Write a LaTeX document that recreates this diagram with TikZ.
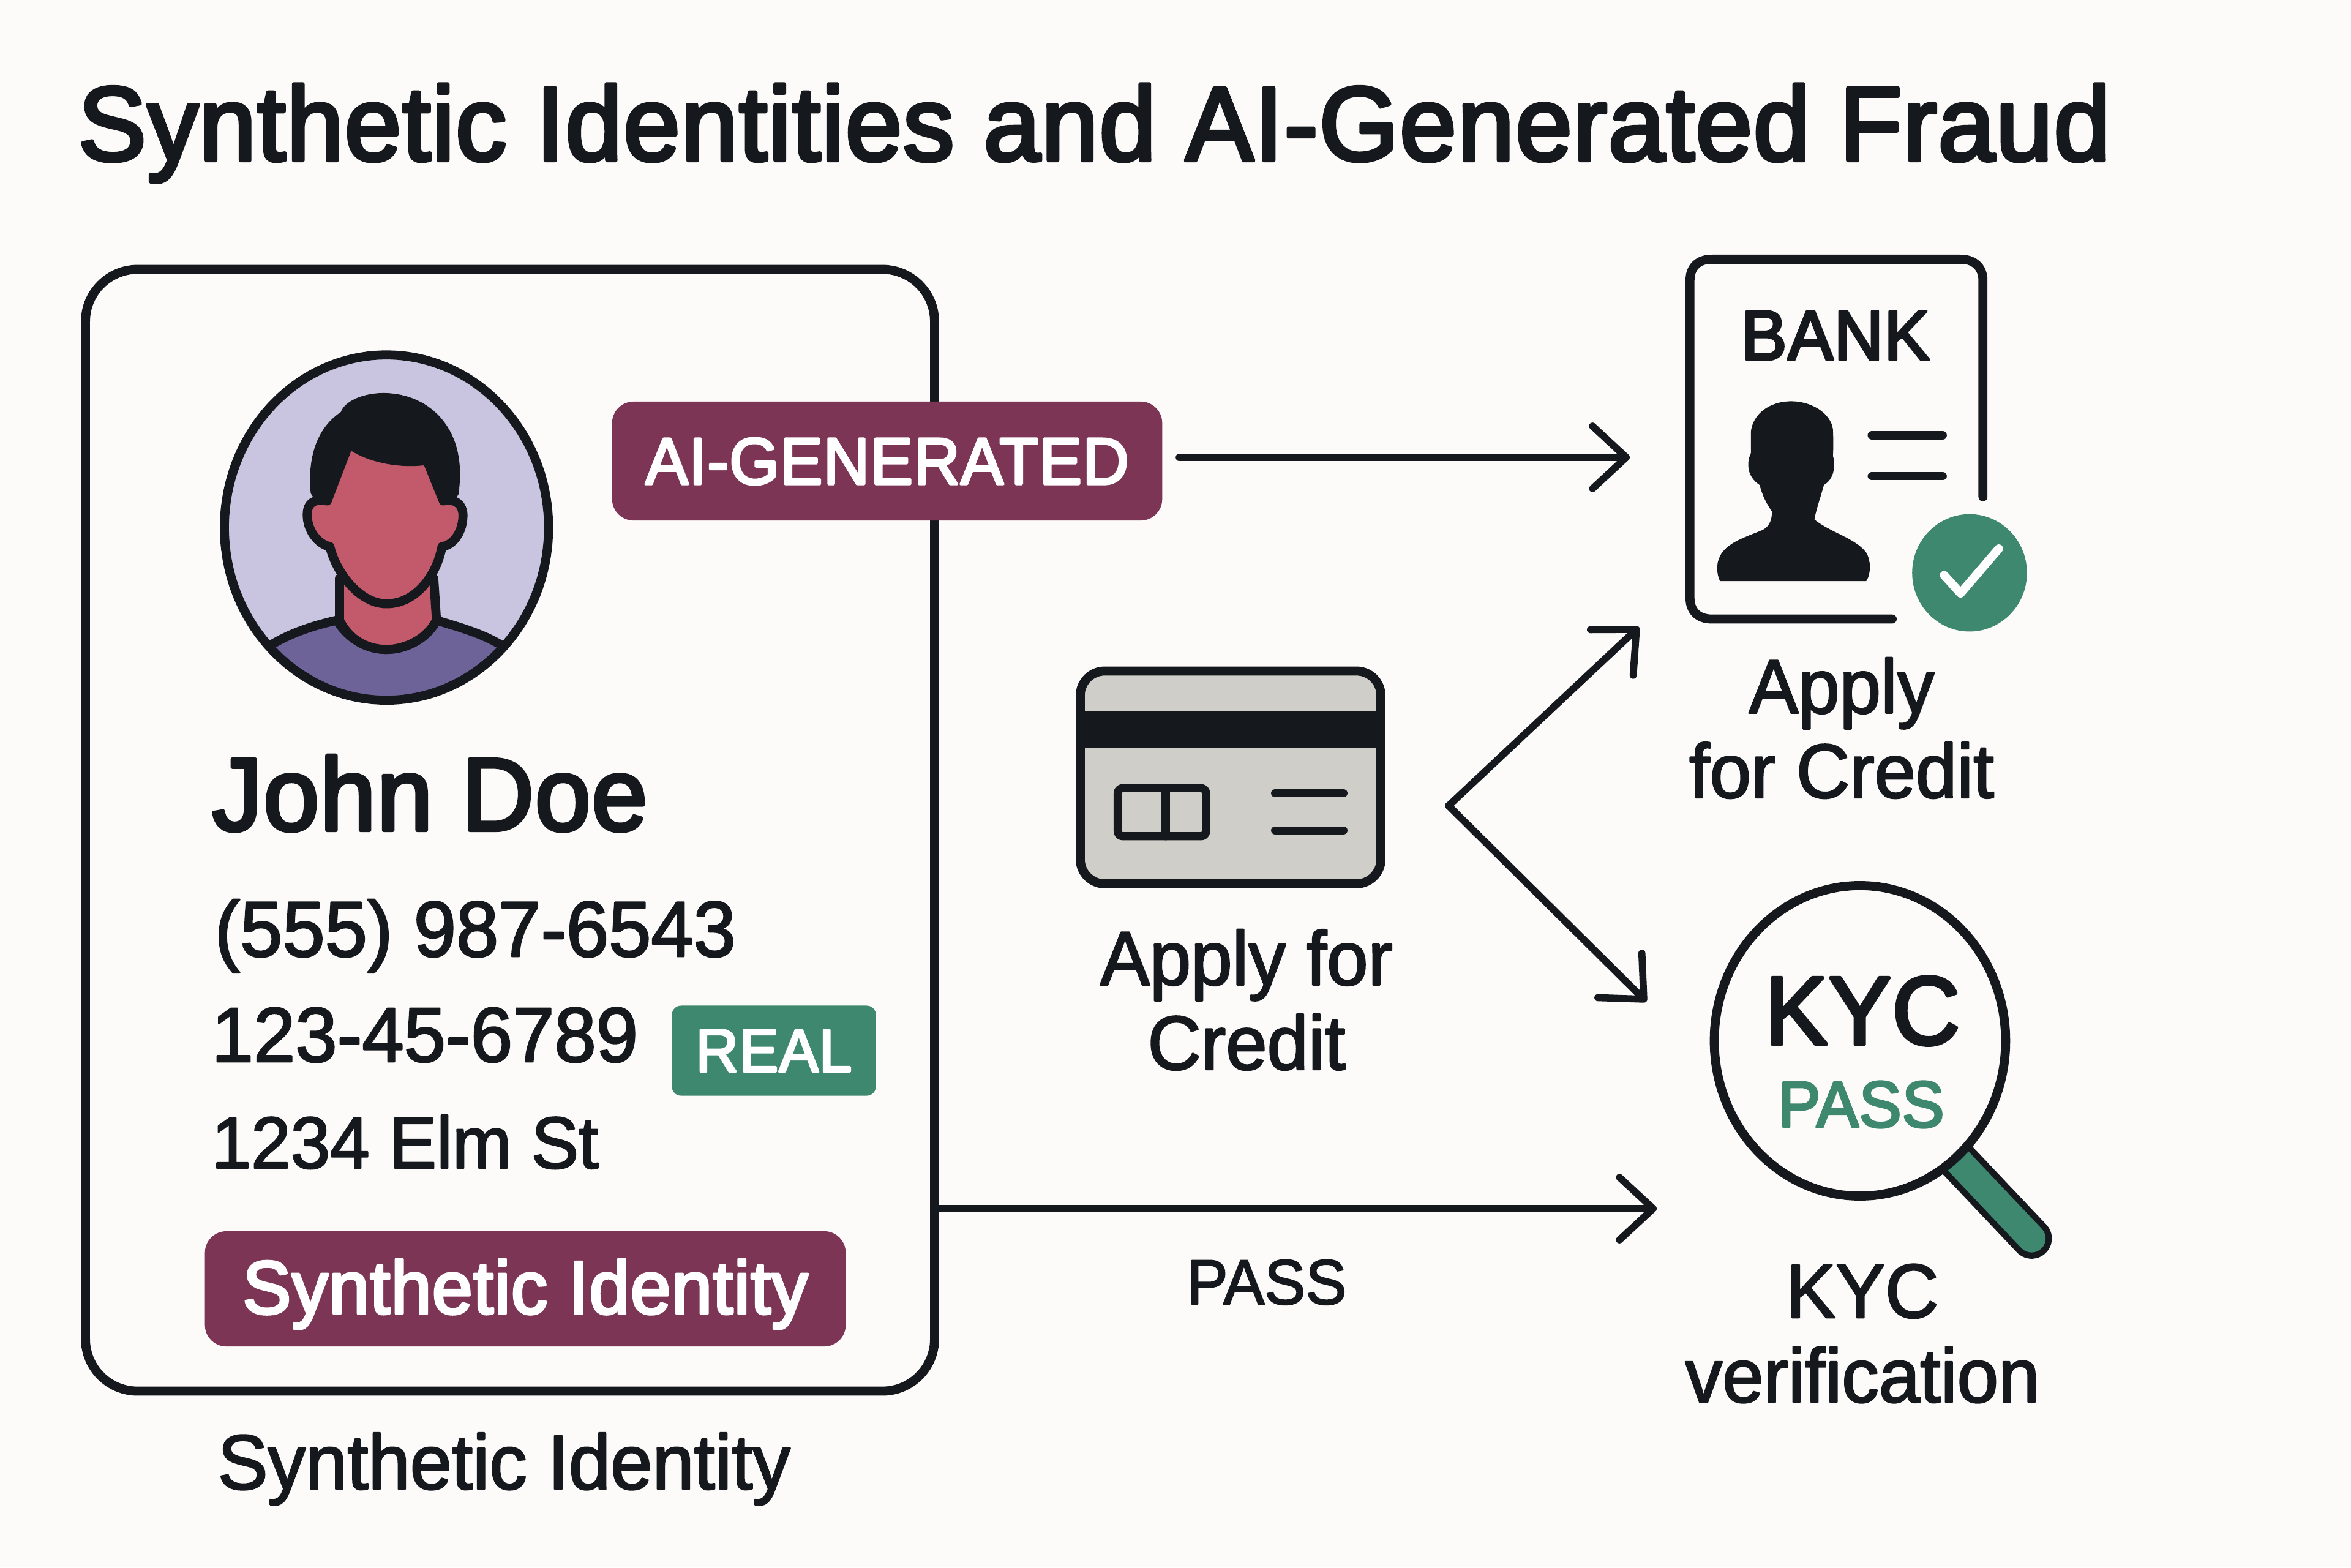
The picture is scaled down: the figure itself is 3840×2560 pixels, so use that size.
\documentclass[tikz,border=0pt]{standalone}
\usepackage{fontspec}
\setmainfont{Liberation Sans}
\newfontfamily\medfont[FakeBold=2.2,FakeStretch=0.97]{Liberation Sans}
\newfontfamily\semifont[FakeBold=3.6,FakeStretch=0.97,LetterSpace=1.0]{Liberation Sans}
\usetikzlibrary{calc,arrows.meta,positioning}

\definecolor{ink}{HTML}{15191D}
\definecolor{paper}{HTML}{FDFBF9}
\definecolor{plum}{HTML}{7D3556}
\definecolor{leaf}{HTML}{3F8870}
\definecolor{lilac}{HTML}{C9C5E0}
\definecolor{skin}{HTML}{C25A6B}
\definecolor{shirt}{HTML}{6E6398}
\definecolor{plastic}{HTML}{D0CEC9}

\tikzset{
  outline/.style={draw=ink, line width=4.2pt, line join=round, line cap=round},
  flowline/.style={draw=ink, line width=3.3pt, line join=round, line cap=round,
    -{Straight Barb[length=0.55cm,width=1.02cm,round]}},
  rule/.style={draw=ink, line width=3.8pt, line cap=round},
  badge/.style={fill=#1, text=white, rounded corners=0.35cm, inner sep=0pt, text depth=0pt, align=center},
  heading/.style={anchor=base west, inner sep=0pt, text=ink, font=\semifont\fontsize{48.9}{48.9}\selectfont},
  entry/.style={anchor=base west, inner sep=0pt, text=ink, font=\medfont\fontsize{36.5}{36.5}\selectfont},
  label/.style={anchor=center, inner sep=0pt, text=ink, align=center, font=\medfont\fontsize{35.5}{39.3}\selectfont}
}

\begin{document}
\begin{tikzpicture}[x=0.01cm, y=-0.01cm, >=stealth, line join=round, line cap=round]
  \useasboundingbox (0,0) rectangle (3840,2560);
  \fill[paper] (0,0) rectangle (3840,2560);

  \node[heading] (title) at (127,262) {Synthetic Identities and AI-Generated Fraud};

  % identity card
  \node[outline, rounded corners=0.85cm, minimum width=13.86cm, minimum height=18.31cm, inner sep=0pt] (card) at (833,1356) {};

  % avatar
  \begin{scope}[shift={(300,530)}, xscale=0.4464, yscale=0.4146]
    \fill[lilac] (742,800) ellipse (593 and 680);
    \begin{scope}
      \clip (742,800) ellipse (593 and 680);
      \draw[outline, fill=shirt] (315,1265) .. controls (400,1210) and (480,1185) .. (560,1165)
        .. controls (610,1250) and (680,1280) .. (742,1280) .. controls (810,1280) and (890,1240) .. (925,1165)
        .. controls (1000,1190) and (1090,1215) .. (1165,1265) -- (1165,1600) -- (315,1600) -- cycle;
      \draw[outline, fill=skin] (570,1000) -- (570,1165) .. controls (610,1250) and (680,1280) .. (742,1280)
        .. controls (810,1280) and (890,1240) .. (925,1165) -- (915,1000) -- cycle;
    \end{scope}
    \draw[outline, fill=skin] (605,470) .. controls (680,530) and (800,550) .. (890,535) -- (950,695)
      .. controls (985,685) and (1020,700) .. (1022,750) .. controls (1022,820) and (985,870) .. (945,875)
      .. controls (930,970) and (860,1100) .. (742,1100) .. controls (640,1100) and (555,970) .. (535,875)
      .. controls (490,865) and (452,810) .. (452,750) .. controls (452,700) and (480,685) .. (525,695) -- cycle;
    \fill[ink] (465,665) .. controls (455,560) and (470,420) .. (575,345) .. controls (590,300) and (660,270) .. (730,270)
      .. controls (880,270) and (1000,380) .. (1010,560) .. controls (1012,600) and (1010,640) .. (1005,670)
      -- (985,700) -- (950,695) -- (890,535) .. controls (800,550) and (680,530) .. (605,470) -- (525,695) -- (480,690) -- cycle;
    \draw[outline] (742,800) ellipse (593 and 680);
  \end{scope}

  \node[badge=plum, minimum width=8.98cm, minimum height=1.94cm, font=\semifont\fontsize{30.7}{30.7}\selectfont] (aigen) at (1449,753) {AI-GENERATED};

  \node[entry, font=\semifont\fontsize{48}{48}\selectfont] (name) at (346,1356) {John Doe};
  \node[entry] (phone) at (350,1562) {(555) 987-6543};
  \node[entry, font=\medfont\fontsize{36}{36}\selectfont] (ssn) at (345,1734) {123-45-6789};
  \node[entry, font=\medfont\fontsize{34}{34}\selectfont] (street) at (345,1908) {1234 Elm St};
  \node[badge=leaf, rounded corners=0.15cm, minimum width=3.33cm, minimum height=1.47cm, font=\semifont\fontsize{28.3}{28.3}\selectfont] (real) at (1264,1716) {REAL};
  \node[badge=plum, minimum width=10.46cm, minimum height=1.88cm, text depth=0.08cm, font=\semifont\fontsize{34.8}{34.8}\selectfont] (synth) at (858,2105) {Synthetic Identity};
  \node[entry, font=\medfont\fontsize{36}{36}\selectfont] (cardcap) at (355,2432) {Synthetic Identity};

  % credit card
  \begin{scope}[shift={(1700,1050)}, xscale=0.6378, yscale=0.3827]
    \draw[outline, fill=plastic, rounded corners=0.4cm] (101,120) rectangle (871,1028);
    \fill[ink] (101,290) rectangle (871,450);
    \draw[rule, fill=plastic, rounded corners=0.08cm] (197,620) rectangle (423,825);
    \draw[rule] (320,620) -- (320,825);
    \draw[rule] (600,642) -- (775,642);
    \draw[rule] (600,800) -- (775,800);
  \end{scope}
  \node[label] (applyleft) at (2036,1633) {Apply for\\Credit};

  % bank document
  \begin{scope}[shift={(2700,380)}, xscale=0.4464, yscale=0.4337]
    \draw[outline] (875,1455) -- (215,1455) .. controls (165,1455) and (135,1425) .. (135,1375) -- (135,180)
      .. controls (135,130) and (165,100) .. (215,100) -- (1125,100) .. controls (1175,100) and (1207,130) .. (1207,180) -- (1207,995);
    \fill[ink] (245,1312) -- (780,1312) .. controls (800,1280) and (795,1230) .. (780,1205)
      .. controls (740,1150) and (650,1130) .. (590,1080) .. controls (600,1030) and (615,990) .. (625,950)
      .. controls (660,930) and (670,880) .. (658,840) .. controls (660,810) and (660,780) .. (658,740)
      .. controls (650,680) and (580,635) .. (505,635) .. controls (430,635) and (365,680) .. (358,750)
      .. controls (358,790) and (358,810) .. (358,830) .. controls (340,870) and (345,920) .. (390,950)
      .. controls (400,990) and (415,1020) .. (435,1050) .. controls (435,1090) and (420,1110) .. (400,1120)
      .. controls (330,1150) and (260,1170) .. (240,1230) .. controls (230,1260) and (235,1290) .. (245,1312) -- cycle;
    \draw[rule] (800,763) -- (1060,763);
    \draw[rule] (800,917) -- (1060,917);
    \fill[leaf] (1158,1281) ellipse (210 and 221);
    \draw[white, line width=4pt, line cap=round, line join=round] (1065,1290) -- (1125,1358) -- (1265,1190);
  \end{scope}
  \node[entry, anchor=center, font=\semifont\fontsize{32.8}{32.8}\selectfont] (bank) at (2998,548) {BANK};
  \node[label] (applyright) at (3008,1189) {Apply\\for Credit};

  % magnifier
  \begin{scope}[shift={(2700,1400)}, scale=0.4464]
    \draw[ink, line width=18.8pt, line cap=round] (1115,1110) -- (1385,1395);
    \draw[leaf, line width=13pt, line cap=round] (1115,1110) -- (1385,1395);
    \draw[outline, fill=paper] (757,672) ellipse (533 and 568);
  \end{scope}
  \node[entry, anchor=center, font=\semifont\fontsize{45}{45}\selectfont] (kyc) at (3042,1651) {KYC};
  \node[entry, anchor=center, text=leaf, font=\semifont\fontsize{30.3}{30.3}\selectfont] (pass) at (3040,1804) {PASS};
  \node[label] (kyccap) at (3042,2178) {KYC\\verification};
  \node[entry, anchor=base, font=\medfont\fontsize{29.5}{29.5}\selectfont] (passnote) at (2069,2130) {PASS};

  % arrows
  \coordinate (bankin) at (2662,747);
  \coordinate (kycin) at (2706,1974);
  \coordinate (fork) at (2366,1316);
  \coordinate (forkup) at (2677,1024);
  \coordinate (forkdown) at (2689,1636);
  \draw[flowline, shorten <=0.27cm] (aigen.east |- bankin) -- (bankin);
  \draw[flowline] (card.east |- kycin) -- (kycin);
  \draw[flowline] (fork) -- (forkup);
  \draw[flowline] (fork) -- (forkdown);
\end{tikzpicture}
\end{document}
